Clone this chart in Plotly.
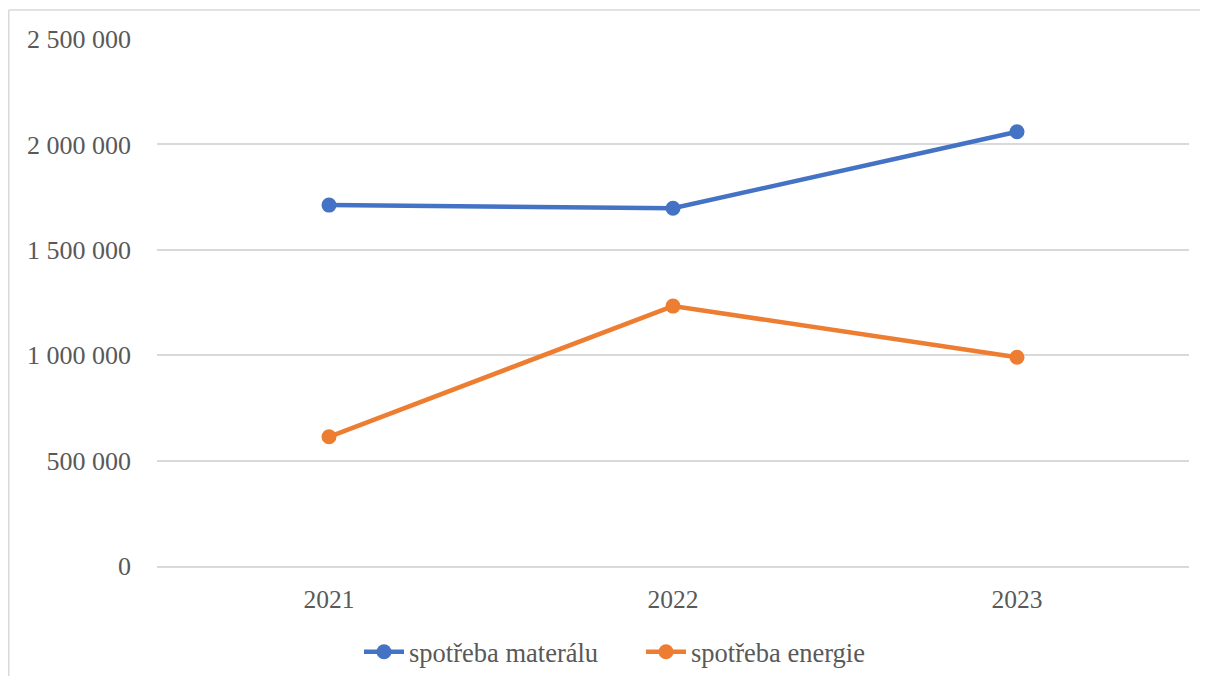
import plotly.graph_objects as go

years = ["2021", "2022", "2023"]
material = [1712000, 1697000, 2060000]
energie = [613000, 1233000, 990000]
y_ticks = [0, 500000, 1000000, 1500000, 2000000, 2500000]

BLUE = "#4472C4"
ORANGE = "#ED7D31"
TXT = "#595959"
FONT = "Liberation Serif, Times New Roman, serif"

W, H = 1192, 668
L, R, T, B = 149, 11, 31, 110
PW, PH = W - L - R, H - T - B

fig = go.Figure()
fig.add_trace(go.Scatter(x=years, y=material, mode="lines+markers", name="spotřeba materálu",
                         line=dict(color=BLUE, width=4.5), marker=dict(size=15, color=BLUE)))
fig.add_trace(go.Scatter(x=years, y=energie, mode="lines+markers", name="spotřeba energie",
                         line=dict(color=ORANGE, width=4.5), marker=dict(size=15, color=ORANGE)))

bx0 = (0.75 - L) / PW
bx1 = (W - L) / PW
by0 = -B / PH
by1 = (T + PH - 2) / PH
fig.update_layout(
    width=W, height=H,
    margin=dict(l=L, r=R, t=T, b=B),
    paper_bgcolor="white", plot_bgcolor="white",
    font=dict(family=FONT, size=26, color=TXT),
    separators=", ",
    showlegend=True,
    legend=dict(orientation="h", xref="container", yref="container",
                x=(364 - 8 - 5) / W, y=1 - 644 / H, xanchor="left", yanchor="middle",
                entrywidth=227, entrywidthmode="pixels",
                font=dict(size=26.5, color=TXT), itemwidth=40, traceorder="normal"),
    xaxis=dict(type="category", range=[-0.5, 2.5], showgrid=False, showline=True,
               linecolor="#d9d9d9", linewidth=1.5, zeroline=False, ticks="",
               ticklabelstandoff=10, tickfont=dict(size=25.5, color=TXT)),
    yaxis=dict(range=[0, 2500000], tickvals=y_ticks, tickformat=",d",
               showgrid=True, gridcolor="#d9d9d9", gridwidth=1.5, zeroline=False,
               showline=False, ticks="", ticklabelstandoff=25,
               tickfont=dict(size=26, color=TXT)),
    shapes=[
        dict(type="line", xref="paper", yref="paper", x0=bx0, x1=bx1, y0=by1, y1=by1,
             line=dict(color="#d9d9d9", width=1.5), layer="below"),
        dict(type="line", xref="paper", yref="paper", x0=bx0, x1=bx0, y0=by0, y1=by1,
             line=dict(color="#d9d9d9", width=1.5), layer="below"),
    ],
)

fig.write_html("out.html")
